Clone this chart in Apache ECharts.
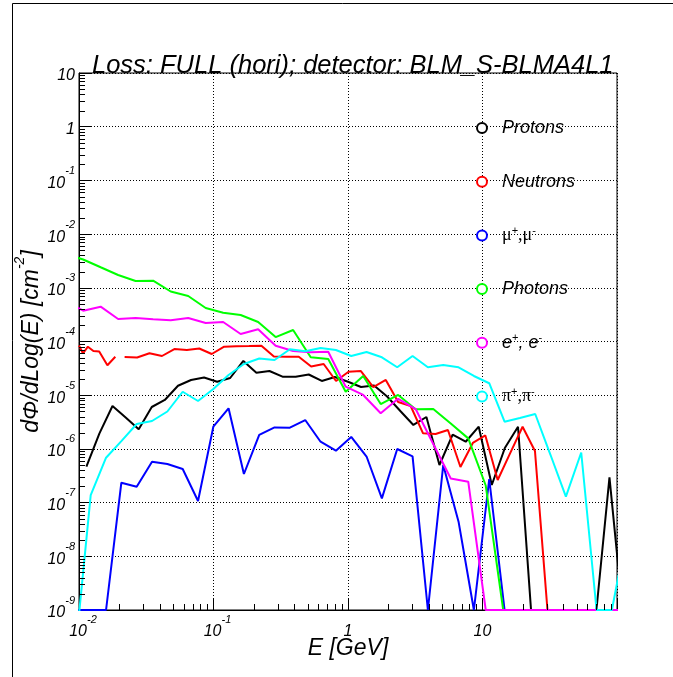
<!DOCTYPE html>
<html>
<head>
<meta charset="utf-8">
<script src="https://cdn.jsdelivr.net/npm/echarts@6/dist/echarts.min.js"></script>
<style>
html,body{margin:0;padding:0;background:#fff;overflow:hidden;}
#c{width:673px;height:677px;}
</style>
</head>
<body>
<div id="c"></div>
<script>
// ---------------- data (E in GeV, flux in cm^-2 per unit log E) ----------------
const protonsE = [0.01135,0.01419,0.01774,0.02223,0.0278,0.03475,0.04345,0.05445,0.06808,0.08511,0.1064,0.133,0.1667,0.2084,0.2606,0.3258,0.4083,0.5105,0.6383,0.798,1.0,1.25,1.563,1.954,2.449,3.062,3.828,4.786,5.998,7.499,9.376,11.72,14.66,18.37,22.96,28.71,35.89,44.87,56.23,70.31,87.9,109.9];
const protonsFlux = [4.67e-7,1.95e-6,6.30e-6,3.85e-6,2.32e-6,6.03e-6,8.15e-6,1.50e-5,1.92e-5,2.14e-5,1.78e-5,2.09e-5,4.34e-5,2.62e-5,2.82e-5,2.21e-5,2.21e-5,2.43e-5,1.84e-5,2.18e-5,1.78e-5,1.42e-5,1.52e-5,9.46e-6,5.08e-6,2.79e-6,3.93e-6,5.01e-7,1.85e-6,1.36e-6,2.59e-6,2.13e-7,1.04e-6,2.59e-6,1e-9,1e-9,1e-9,1e-9,1e-9,1e-9,2.96e-7,1e-9];

const neutronsE = [0.01,0.01071,0.01164,0.01279,0.01413,0.01626,0.01862,0.02,0.02183,0.02704,0.03342,0.0414,0.05117,0.06339,0.07834,0.09705,0.12,0.1483,0.1837,0.227,0.2812,0.3475,0.4305,0.5321,0.6592,0.8147,1.009,1.247,1.542,1.91,2.36,2.924,3.614,4.477,5.534,6.855,8.472,10.5,12.97,16.03,19.86,24.55,30.41,37.58,46.56,57.54,71.29,88.1,109.1];
const neutronsFlux = [8.43e-5,5.98e-5,8.00e-5,6.65e-5,6.51e-5,3.61e-5,5.21e-5,null,5.14e-5,5.04e-5,6.03e-5,5.37e-5,7.24e-5,6.95e-5,7.41e-5,5.85e-5,8.00e-5,8.15e-5,8.24e-5,8.36e-5,5.26e-5,5.21e-5,5.21e-5,3.42e-5,3.81e-5,1.84e-5,2.74e-5,2.82e-5,1.42e-5,1.92e-5,7.46e-6,6.30e-6,1.95e-6,1.89e-6,2.25e-6,4.60e-7,1.29e-6,1.78e-6,2.64e-7,8.28e-7,2.59e-6,9.14e-7,1e-9,1e-9,1e-9,1e-9,1e-9,1e-9,1e-9];

const muonPionE = [0.0094,0.01222,0.01589,0.02065,0.02685,0.03491,0.04539,0.05902,0.07674,0.0997,0.1294,0.1683,0.2188,0.2844,0.3698,0.4808,0.6252,0.8128,1.057,1.374,1.786,2.323,3.02,3.926,5.105,6.637,8.63,11.22,14.59,18.97,24.66,32.06,41.69,54.2,70.47,91.62,119.1];
const muonsFlux = [1e-9,1e-9,1e-9,2.35e-7,1.98e-7,5.78e-7,5.24e-7,4.23e-7,1.07e-7,2.59e-6,5.70e-6,3.41e-7,1.82e-6,2.51e-6,2.48e-6,3.45e-6,1.36e-6,9.25e-7,1.67e-6,7.21e-7,1.20e-7,9.95e-7,7.28e-7,1e-9,5.01e-7,4.41e-8,1e-9,2.75e-7,1e-9,1e-9,1e-9,1e-9,1e-9,1e-9,1e-9,1e-9,1e-9];
const pionsFlux = [1.7e-10,1.38e-7,6.85e-7,1.40e-6,2.91e-6,3.31e-6,4.97e-6,1.16e-5,7.80e-6,1.30e-5,2.38e-5,3.81e-5,4.82e-5,4.52e-5,7.16e-5,6.58e-5,7.57e-5,6.95e-5,5.37e-5,6.37e-5,5.08e-5,3.31e-5,5.37e-5,3.31e-5,3.65e-5,3.31e-5,2.28e-5,1.67e-5,3.21e-6,3.76e-6,4.47e-6,7.69e-7,1.29e-7,8.57e-7,1e-9,1e-9,3e-8];

const photonElectronE = [0.00796,0.01074,0.01449,0.01954,0.02636,0.03556,0.04808,0.06486,0.0875,0.118,0.1592,0.2148,0.2897,0.3908,0.5284,0.7129,0.9616,1.297,1.75,2.36,3.184,4.305,5.808,7.834,10.57,14.26,19.23,26.0,35.08,47.32,63.83,86.1,116.1];
const photonsFlux = [4.26e-3,3.37e-3,2.41e-3,1.73e-3,1.34e-3,1.36e-3,8.53e-4,7.03e-4,4.21e-4,3.44e-4,3.11e-4,2.31e-4,1.21e-4,1.64e-4,5.08e-5,4.72e-5,1.16e-5,2.28e-5,6.85e-6,1.01e-5,5.46e-6,5.53e-6,2.97e-6,1.57e-6,2.08e-7,1e-9,1e-9,1e-9,1e-9,1e-9,1e-9,1e-9,1e-9];
const electronsFlux = [5.68e-4,3.75e-4,4.45e-4,2.62e-4,2.74e-4,2.59e-4,2.49e-4,2.74e-4,2.21e-4,2.31e-4,1.38e-4,1.69e-4,8.36e-5,6.65e-5,6.29e-5,6.46e-5,1.44e-5,1.01e-5,4.60e-6,8.57e-6,5.53e-6,1.23e-6,2.81e-7,2.45e-7,1e-9,1e-9,1e-9,1e-9,1e-9,1e-9,1e-9,1e-9,1e-9];

const seriesNames = ['Protons','Neutrons','mu','Photons','e','pi'];
const legendTexts = {
  Protons: '{i|Protons}',
  Neutrons: '{i|Neutrons}',
  mu: '{g|μ}{s|+}{g|,μ}{s|-}',
  Photons: '{i|Photons}',
  e: '{i|e}{s|+}{i|, e}{s|-}',
  pi: '{g|π}{s|+}{g|,π}{s|-}'
};
const xTickExp = {'-2':'-2','-1':'-1'};
const xTickPlain = {'0':'1','1':'10','2':''};
const yTickPlain = {'0':'1','1':'10'};
const minorMultipliers = [2,3,4,5,6,7,8,9];
const xDecades = [0.01,0.1,1,10];
const yDecades = [1e-9,1e-8,1e-7,1e-6,1e-5,1e-4,1e-3,1e-2,1e-1,1];
const titleText = 'Loss: FULL (hori); detector: BLM_S-BLMA4L1';

// ---------------- chart ----------------
const FONT = 'Liberation Sans';
const chart = echarts.init(document.getElementById('c'), null, {renderer:'canvas', width:673, height:677});

function pairs(E, F){ return E.map((e,i)=>[e, F[i]==null ? '-' : F[i]]); }
const xMinor = xDecades.flatMap(d => minorMultipliers.map(m => [m*d, 1e-9]));
const yMinor = yDecades.flatMap(d => minorMultipliers.map(m => [0.01, m*d]));

const richTick = {
  b: {fontFamily:FONT, fontStyle:'italic', fontSize:16, color:'#000', lineHeight:26, verticalAlign:'bottom'},
  bx: {fontFamily:FONT, fontStyle:'italic', fontSize:16, color:'#000', lineHeight:26, verticalAlign:'bottom', padding:[0,0,0,8]},
  s: {fontFamily:FONT, fontStyle:'italic', fontSize:11, color:'#000', lineHeight:10, verticalAlign:'top'}
};

function lineSeries(name, E, F, color){
  return {name, type:'line', data:pairs(E,F), showSymbol:false, symbol:'emptyCircle', symbolSize:9,
    connectNulls:false, clip:true, lineStyle:{color, width:2}, itemStyle:{color, borderWidth:1.5},
    emphasis:{disabled:true}, animation:false, z:3};
}

const option = {
  animation:false,
  backgroundColor:'#ffffff',
  title:{text:titleText, left:92, top:53, padding:0,
    textStyle:{fontFamily:FONT, fontStyle:'italic', fontWeight:'normal', fontSize:25.5, color:'#000'}},
  grid:{left:79, top:73, width:538, height:537, outerBoundsMode:'none', containLabel:false,
    show:true, borderColor:'#000', borderWidth:1, backgroundColor:'rgba(0,0,0,0)'},
  legend:{data:seriesNames, orient:'vertical', left:471, top:113, itemWidth:30, itemHeight:10, itemGap:33.7,
    icon:'emptyCircle', itemStyle:{borderWidth:1.5}, selectedMode:false,
    formatter:(n)=>legendTexts[n],
    textStyle:{color:'#000', fontSize:18, lineHeight:20, rich:{
      i:{fontFamily:FONT, fontStyle:'italic', fontSize:18, lineHeight:20, color:'#000'},
      g:{fontFamily:'Liberation Serif', fontStyle:'normal', fontSize:18, lineHeight:20, color:'#000'},
      s:{fontFamily:FONT, fontSize:11, lineHeight:10, verticalAlign:'top', color:'#000'}
    }}},
  xAxis:{type:'log', logBase:10, min:0.01, max:100, splitNumber:4,
    name:'E [GeV]', nameLocation:'middle', nameGap:27, nameMoveOverlap:false,
    nameTextStyle:{fontFamily:FONT, fontStyle:'italic', fontSize:23, color:'#000'},
    axisLine:{show:true, lineStyle:{color:'#000', width:1}},
    axisTick:{show:true, inside:true, length:12, lineStyle:{color:'#000'}},
    minorTick:{show:false},
    splitLine:{show:true, lineStyle:{color:'#000', type:[1,2], width:1}},
    axisLabel:{margin:4, showMaxLabel:true, hideOverlap:false, rich:richTick, formatter:(v)=>{
      const k = String(Math.round(Math.log10(v)));
      if (xTickExp[k] !== undefined) return '{bx|10}{s|' + xTickExp[k] + '}';
      return '{b|' + xTickPlain[k] + '}';
    }}},
  yAxis:{type:'log', logBase:10, min:1e-9, max:10, splitNumber:10,
    name:'{n|dΦ/dLog(E) [cm}{s|-2}{n|]}', nameLocation:'middle', nameGap:36, nameRotate:90, nameMoveOverlap:false,
    nameTextStyle:{rich:{
      n:{fontFamily:FONT, fontStyle:'italic', fontSize:23, color:'#000', lineHeight:30, verticalAlign:'bottom'},
      s:{fontFamily:FONT, fontStyle:'italic', fontSize:14, color:'#000', lineHeight:14, verticalAlign:'top'}
    }},
    axisLine:{show:true, lineStyle:{color:'#000', width:1}},
    axisTick:{show:true, inside:true, length:12, lineStyle:{color:'#000'}},
    minorTick:{show:false},
    splitLine:{show:true, lineStyle:{color:'#000', type:[1,2], width:1}},
    axisLabel:{margin:4, padding:[0,0,4,0], hideOverlap:false, rich:richTick, formatter:(v)=>{
      const e = Math.round(Math.log10(v));
      const k = String(e);
      if (yTickPlain[k] !== undefined) return '{b|' + yTickPlain[k] + '}';
      return '{b|10}{s|' + k + '}';
    }}},
  series:[
    lineSeries('Protons', protonsE, protonsFlux, '#000000'),
    lineSeries('Neutrons', neutronsE, neutronsFlux, '#ff0000'),
    lineSeries('mu', muonPionE, muonsFlux, '#0000ff'),
    lineSeries('Photons', photonElectronE, photonsFlux, '#00ff00'),
    lineSeries('e', photonElectronE, electronsFlux, '#ff00ff'),
    lineSeries('pi', muonPionE, pionsFlux, '#00ffff'),
    {type:'custom', silent:true, data:xMinor, z:4, clip:false,
      renderItem:(params, api)=>{
        const p = api.coord([api.value(0), api.value(1)]);
        const x = Math.round(p[0]) + 0.5;
        return {type:'line', shape:{x1:x, y1:p[1], x2:x, y2:p[1]-6}, style:{stroke:'#000', lineWidth:1}};
      }},
    {type:'custom', silent:true, data:yMinor, z:4, clip:false,
      renderItem:(params, api)=>{
        const p = api.coord([api.value(0), api.value(1)]);
        const y = Math.round(p[1]) + 0.5;
        return {type:'line', shape:{x1:p[0], y1:y, x2:p[0]+6, y2:y}, style:{stroke:'#000', lineWidth:1}};
      }}
  ],
  graphic:[
    {type:'line', silent:true, shape:{x1:12.5, y1:3.5, x2:673, y2:3.5}, style:{stroke:'#000', lineWidth:1}},
    {type:'line', silent:true, shape:{x1:12.5, y1:3.5, x2:12.5, y2:677}, style:{stroke:'#000', lineWidth:1}}
  ]
};
chart.setOption(option);
</script>
</body>
</html>
